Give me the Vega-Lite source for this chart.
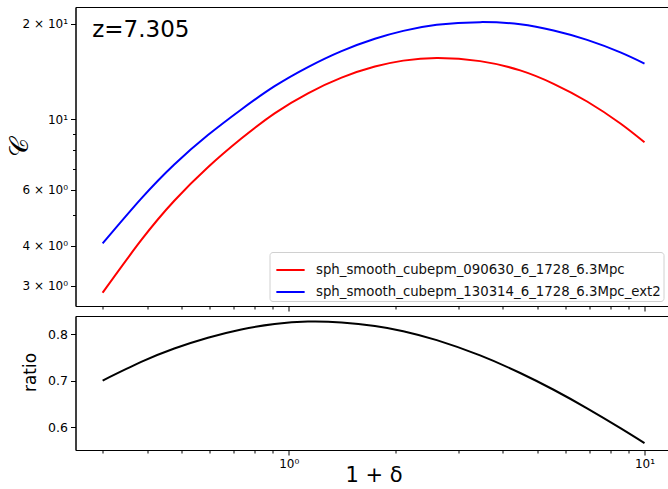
{
  "$schema": "https://vega.github.io/schema/vega-lite/v6.json",
  "background": "white",
  "padding": {"left": 5.5, "top": 6, "right": 0, "bottom": 1},
  "config": {
    "view": {"stroke": "black", "strokeWidth": 1},
    "font": "DejaVu Sans",
    "axis": {
      "grid": false,
      "domainColor": "black",
      "tickColor": "black",
      "labelColor": "black",
      "titleColor": "black",
      "labelFont": "DejaVu Sans",
      "titleFont": "DejaVu Sans",
      "titleFontWeight": "normal"
    }
  },
  "resolve": {"legend": {"color": "independent"}},
  "datasets": {
    "curves": [
      {"x": 0.3, "series": "sph_smooth_cubepm_090630_6_1728_6.3Mpc", "C": 2.849},
      {"x": 0.385, "series": "sph_smooth_cubepm_090630_6_1728_6.3Mpc", "C": 4.167},
      {"x": 0.477, "series": "sph_smooth_cubepm_090630_6_1728_6.3Mpc", "C": 5.544},
      {"x": 0.593, "series": "sph_smooth_cubepm_090630_6_1728_6.3Mpc", "C": 7.066},
      {"x": 0.736, "series": "sph_smooth_cubepm_090630_6_1728_6.3Mpc", "C": 8.699},
      {"x": 0.913, "series": "sph_smooth_cubepm_090630_6_1728_6.3Mpc", "C": 10.444},
      {"x": 1.133, "series": "sph_smooth_cubepm_090630_6_1728_6.3Mpc", "C": 12.073},
      {"x": 1.408, "series": "sph_smooth_cubepm_090630_6_1728_6.3Mpc", "C": 13.522},
      {"x": 1.747, "series": "sph_smooth_cubepm_090630_6_1728_6.3Mpc", "C": 14.65},
      {"x": 2.099, "series": "sph_smooth_cubepm_090630_6_1728_6.3Mpc", "C": 15.295},
      {"x": 2.607, "series": "sph_smooth_cubepm_090630_6_1728_6.3Mpc", "C": 15.598},
      {"x": 3.451, "series": "sph_smooth_cubepm_090630_6_1728_6.3Mpc", "C": 15.24},
      {"x": 4.474, "series": "sph_smooth_cubepm_090630_6_1728_6.3Mpc", "C": 14.247},
      {"x": 5.553, "series": "sph_smooth_cubepm_090630_6_1728_6.3Mpc", "C": 12.931},
      {"x": 6.897, "series": "sph_smooth_cubepm_090630_6_1728_6.3Mpc", "C": 11.376},
      {"x": 8.557, "series": "sph_smooth_cubepm_090630_6_1728_6.3Mpc", "C": 9.699},
      {"x": 10, "series": "sph_smooth_cubepm_090630_6_1728_6.3Mpc", "C": 8.464},
      {"x": 0.3, "series": "sph_smooth_cubepm_130314_6_1728_6.3Mpc_ext2", "C": 4.07},
      {"x": 0.385, "series": "sph_smooth_cubepm_130314_6_1728_6.3Mpc_ext2", "C": 5.63},
      {"x": 0.477, "series": "sph_smooth_cubepm_130314_6_1728_6.3Mpc_ext2", "C": 7.21},
      {"x": 0.593, "series": "sph_smooth_cubepm_130314_6_1728_6.3Mpc_ext2", "C": 8.92},
      {"x": 0.736, "series": "sph_smooth_cubepm_130314_6_1728_6.3Mpc_ext2", "C": 10.74},
      {"x": 0.913, "series": "sph_smooth_cubepm_130314_6_1728_6.3Mpc_ext2", "C": 12.71},
      {"x": 1.133, "series": "sph_smooth_cubepm_130314_6_1728_6.3Mpc_ext2", "C": 14.6},
      {"x": 1.408, "series": "sph_smooth_cubepm_130314_6_1728_6.3Mpc_ext2", "C": 16.39},
      {"x": 1.747, "series": "sph_smooth_cubepm_130314_6_1728_6.3Mpc_ext2", "C": 17.92},
      {"x": 2.099, "series": "sph_smooth_cubepm_130314_6_1728_6.3Mpc_ext2", "C": 18.97},
      {"x": 2.607, "series": "sph_smooth_cubepm_130314_6_1728_6.3Mpc_ext2", "C": 19.82},
      {"x": 3.451, "series": "sph_smooth_cubepm_130314_6_1728_6.3Mpc_ext2", "C": 20.21},
      {"x": 4.474, "series": "sph_smooth_cubepm_130314_6_1728_6.3Mpc_ext2", "C": 19.89},
      {"x": 5.553, "series": "sph_smooth_cubepm_130314_6_1728_6.3Mpc_ext2", "C": 19.01},
      {"x": 6.897, "series": "sph_smooth_cubepm_130314_6_1728_6.3Mpc_ext2", "C": 17.77},
      {"x": 8.557, "series": "sph_smooth_cubepm_130314_6_1728_6.3Mpc_ext2", "C": 16.23},
      {"x": 10, "series": "sph_smooth_cubepm_130314_6_1728_6.3Mpc_ext2", "C": 14.97}
    ],
    "ratio": [
      {"x": 0.3, "ratio": 0.7},
      {"x": 0.385, "ratio": 0.7401},
      {"x": 0.477, "ratio": 0.7689},
      {"x": 0.593, "ratio": 0.7921},
      {"x": 0.736, "ratio": 0.81},
      {"x": 0.913, "ratio": 0.8217},
      {"x": 1.133, "ratio": 0.8269},
      {"x": 1.408, "ratio": 0.825},
      {"x": 1.747, "ratio": 0.8175},
      {"x": 2.099, "ratio": 0.8063},
      {"x": 2.607, "ratio": 0.787},
      {"x": 3.451, "ratio": 0.7541},
      {"x": 4.474, "ratio": 0.7163},
      {"x": 5.553, "ratio": 0.6802},
      {"x": 6.897, "ratio": 0.6402},
      {"x": 8.557, "ratio": 0.5976},
      {"x": 10, "ratio": 0.5654}
    ],
    "label": [
      {"x": 0.2805, "C": 18.15, "text": "z=7.305"}
    ]
  },
  "vconcat": [
    {
      "width": 593,
      "height": 299,
      "layer": [
        {
          "data": {"name": "curves"},
          "mark": {"type": "line", "strokeWidth": 2, "interpolate": "natural", "clip": true},
          "encoding": {
            "x": {
              "field": "x", "type": "quantitative",
              "scale": {"type": "log", "domain": [0.2517, 11.68], "nice": false},
              "axis": {
                "title": null, "labels": false,
                "values": [0.3, 0.4, 0.5, 0.6, 0.7, 0.8, 0.9, 1, 2, 3, 4, 5, 6, 7, 8, 9, 10],
                "tickSize": {"condition": {"test": "datum.value == 1 || datum.value == 10", "value": 5}, "value": 3}
              }
            },
            "y": {
              "field": "C", "type": "quantitative",
              "scale": {"type": "log", "domain": [2.588, 22.55], "nice": false},
              "axis": {
                "title": "𝒞",
                "titleFont": "DejaVu Serif",
                "titleFontSize": 26,
                "titleAngle": -90,
                "titleX": -56,
                "titleY": 140,
                "titleAlign": "center",
                "titleBaseline": "middle",
                "values": [3, 4, 5, 6, 7, 8, 9, 10, 20],
                "labelExpr": "datum.value == 20 ? '2 × 10¹' : datum.value == 10 ? '10¹' : datum.value == 6 ? '6 × 10⁰' : datum.value == 4 ? '4 × 10⁰' : datum.value == 3 ? '3 × 10⁰' : ''",
                "labelFontSize": 12,
                "labelPadding": 3,
                "tickSize": {"condition": {"test": "datum.value == 3 || datum.value == 4 || datum.value == 6 || datum.value == 10 || datum.value == 20", "value": 5}, "value": 3}
              }
            },
            "color": {
              "field": "series", "type": "nominal",
              "scale": {
                "domain": ["sph_smooth_cubepm_090630_6_1728_6.3Mpc", "sph_smooth_cubepm_130314_6_1728_6.3Mpc_ext2"],
                "range": ["#ff0000", "#0000ff"]
              },
              "legend": {
                "title": null,
                "orient": "bottom-right",
                "offset": 5,
                "fillColor": "white",
                "strokeColor": "#d0d0d0",
                "cornerRadius": 3,
                "padding": 2.5,
                "rowPadding": 0,
                "symbolOffset": 3,
                "symbolType": "stroke",
                "symbolStrokeWidth": 2,
                "symbolSize": 800,
                "labelFontSize": 13.3,
                "labelFont": "DejaVu Sans",
                "labelColor": "#111111",
                "labelOffset": 10,
                "labelLimit": 500
              }
            }
          }
        },
        {
          "data": {"name": "label"},
          "mark": {"type": "text", "align": "left", "baseline": "alphabetic", "fontSize": 23, "font": "DejaVu Sans", "color": "black"},
          "encoding": {
            "x": {"field": "x", "type": "quantitative"},
            "y": {"field": "C", "type": "quantitative"},
            "text": {"field": "text"}
          }
        }
      ]
    },
    {
      "width": 593,
      "height": 134,
      "data": {"name": "ratio"},
      "mark": {"type": "line", "strokeWidth": 2, "color": "black", "interpolate": "natural"},
      "encoding": {
        "x": {
          "field": "x", "type": "quantitative",
          "scale": {"type": "log", "domain": [0.2517, 11.68], "nice": false},
          "axis": {
            "title": "1 + δ",
            "titleFontSize": 21,
            "titleX": 298,
            "titleY": 31,
            "titleAlign": "center",
            "titleBaseline": "alphabetic",
            "values": [0.3, 0.4, 0.5, 0.6, 0.7, 0.8, 0.9, 1, 2, 3, 4, 5, 6, 7, 8, 9, 10],
            "labelExpr": "datum.value == 1 ? '10⁰' : datum.value == 10 ? '10¹' : ''",
            "labelFontSize": 12,
            "labelPadding": 3,
            "tickSize": {"condition": {"test": "datum.value == 1 || datum.value == 10", "value": 5}, "value": 3}
          }
        },
        "y": {
          "field": "ratio", "type": "quantitative",
          "scale": {"domain": [0.5505, 0.839], "nice": false, "zero": false},
          "axis": {
            "title": "ratio",
            "titleFontSize": 17,
            "titleAngle": -90,
            "titleX": -45,
            "titleY": 56,
            "titleAlign": "center",
            "titleBaseline": "middle",
            "values": [0.6, 0.7, 0.8],
            "format": ".1f",
            "labelFontSize": 12.5,
            "labelPadding": 3,
            "tickSize": 5
          }
        }
      }
    }
  ],
  "spacing": 3
}
